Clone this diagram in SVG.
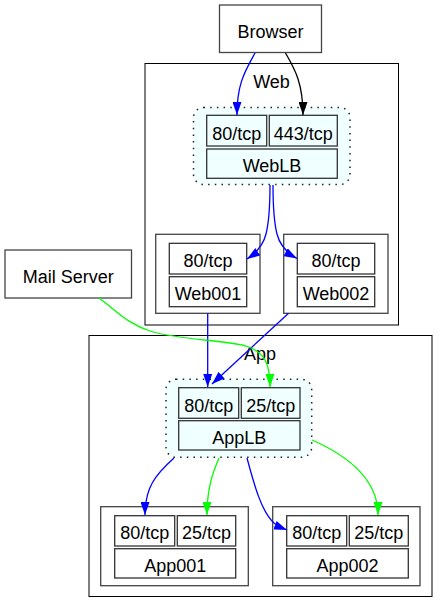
<svg xmlns="http://www.w3.org/2000/svg" width="448" height="613" viewBox="0 0 448 613">
<defs>
<style>
text{font-family:"Liberation Sans",Arial,sans-serif;font-size:18px;fill:#000;text-anchor:middle}
.cl{fill:#fff;stroke:#000;stroke-width:1}
.lb{fill:#f0ffff;stroke:#222;stroke-width:1.5;stroke-dasharray:1.5,5.2}
.box{fill:#fff;stroke:#444;stroke-width:1.3}
.cell{fill:#fff;stroke:#333;stroke-width:1.3}
.cellc{fill:#f0ffff;stroke:#333;stroke-width:1.3}
.e{fill:none;stroke-width:1.3}
.blue{stroke:#0000ff}
.green{stroke:#00ff00}
.black{stroke:#000}
</style>
<marker id="ab" viewBox="0 0 13 9" refX="13" refY="4.5" markerWidth="13" markerHeight="9" markerUnits="userSpaceOnUse" orient="auto"><path d="M0,0L13,4.5L0,9Z" fill="#0000ff"/></marker>
<marker id="ag" viewBox="0 0 13 9" refX="13" refY="4.5" markerWidth="13" markerHeight="9" markerUnits="userSpaceOnUse" orient="auto"><path d="M0,0L13,4.5L0,9Z" fill="#00ff00"/></marker>
<marker id="ak" viewBox="0 0 13 9" refX="13" refY="4.5" markerWidth="13" markerHeight="9" markerUnits="userSpaceOnUse" orient="auto"><path d="M0,0L13,4.5L0,9Z" fill="#000"/></marker>
</defs>
<rect width="448" height="613" fill="#fff"/>
<g id="cluster-web">
<rect class="cl" x="145" y="63.5" width="253.5" height="261.5"/>
<text x="271.5" y="88">Web</text>
</g>
<g id="cluster-app">
<rect class="cl" x="89" y="335.5" width="343" height="261"/>
<text x="260" y="360">App</text>
</g>
<g id="browser">
<rect class="box" x="219.5" y="5" width="102" height="47.5"/>
<text x="270.5" y="37.5">Browser</text>
</g>
<g id="mailserver">
<rect class="box" x="5" y="250" width="126.5" height="48"/>
<text x="68.2" y="282.7">Mail Server</text>
</g>
<g id="weblb">
<rect class="lb" x="193.5" y="107.5" width="156.5" height="77" rx="10"/>
<rect class="cellc" x="206.7" y="115.3" width="60" height="30.7"/>
<text x="236.7" y="139.5">80/tcp</text>
<rect class="cellc" x="269.3" y="115.3" width="68" height="30.7"/>
<text x="303.3" y="139.5">443/tcp</text>
<rect class="cellc" x="206.7" y="149" width="130.6" height="29.3"/>
<text x="272" y="171.5">WebLB</text>
</g>
<g id="web001">
<rect class="box" x="155.7" y="234.3" width="104.3" height="79"/>
<rect class="cell" x="169.3" y="243.3" width="77.4" height="30.7"/>
<text x="208" y="266.7">80/tcp</text>
<rect class="cell" x="169.3" y="276.7" width="77.4" height="30"/>
<text x="208" y="300">Web001</text>
</g>
<g id="web002">
<rect class="box" x="283.7" y="234.3" width="104.3" height="79"/>
<rect class="cell" x="297.3" y="243.3" width="77.4" height="30.7"/>
<text x="336" y="266.7">80/tcp</text>
<rect class="cell" x="297.3" y="276.7" width="77.4" height="30"/>
<text x="336" y="300">Web002</text>
</g>
<g id="applb">
<rect class="lb" x="166" y="379.3" width="145.7" height="78" rx="10"/>
<rect class="cellc" x="178.7" y="387.7" width="60" height="30.6"/>
<text x="208.7" y="411.7">80/tcp</text>
<rect class="cellc" x="241.3" y="387.7" width="58.7" height="30.6"/>
<text x="270.7" y="411.7">25/tcp</text>
<rect class="cellc" x="178.7" y="420.7" width="121.3" height="29.3"/>
<text x="239.3" y="444">AppLB</text>
</g>
<g id="app001">
<rect class="box" x="100.7" y="506.7" width="147.6" height="79"/>
<rect class="cell" x="114.7" y="515.7" width="60" height="30.3"/>
<text x="144.7" y="539.3">80/tcp</text>
<rect class="cell" x="177.3" y="515.7" width="58.4" height="30.3"/>
<text x="206.5" y="539.3">25/tcp</text>
<rect class="cell" x="114.7" y="548.7" width="121" height="29.3"/>
<text x="175.2" y="571.7">App001</text>
</g>
<g id="app002">
<rect class="box" x="272.7" y="506.7" width="147.3" height="79"/>
<rect class="cell" x="286.7" y="515.7" width="60" height="30.3"/>
<text x="316.7" y="539.3">80/tcp</text>
<rect class="cell" x="349.3" y="515.7" width="59" height="30.3"/>
<text x="378.8" y="539.3">25/tcp</text>
<rect class="cell" x="286.7" y="548.7" width="121.6" height="29.3"/>
<text x="347.5" y="571.7">App002</text>
</g>
<g id="connectors">
<path class="e blue" d="M255,53 C246,70 237,82 237,115" marker-end="url(#ab)"/>
<path class="e black" d="M285.5,53 C294,68 303,82 303,115" marker-end="url(#ak)"/>
<path class="e blue" d="M270,185 C270,200 269,222 266,234 C263,246 256,253 247,259" marker-end="url(#ab)"/>
<path class="e blue" d="M273,185 C273,200 274,222 277,234 C280,246 287,253 297,258.5" marker-end="url(#ab)"/>
<path class="e blue" d="M207.7,313.5 L207.7,387" marker-end="url(#ab)"/>
<path class="e blue" d="M288.3,313.5 L212,384" marker-end="url(#ab)"/>
<path class="e green" d="M99,298 C118,312 128,324 150,331 C178,340 225,340 246,346 C264,352 270,362 270,387" marker-end="url(#ag)"/>
<path class="e blue" d="M174,458 C155,475 145,488 145,515" marker-end="url(#ab)"/>
<path class="e green" d="M219,458 C213,472 207,488 207,515" marker-end="url(#ag)"/>
<path class="e blue" d="M247,458 C255,488 262,512 274,523 C278,526 282,528 287,530" marker-end="url(#ab)"/>
<path class="e green" d="M312,440 C346,455 378,478 378,515" marker-end="url(#ag)"/>
</g>
</svg>
